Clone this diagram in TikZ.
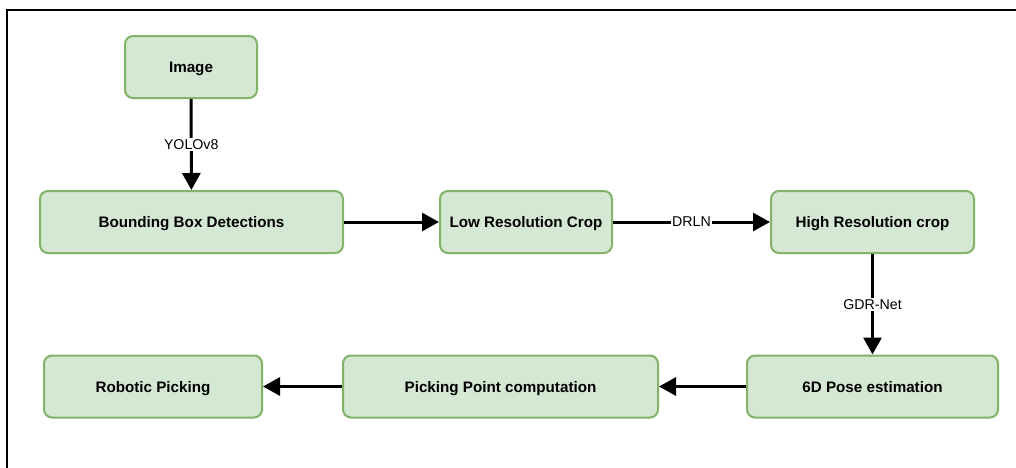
\documentclass[tikz,border=0pt]{standalone}
\usepackage{fontspec}
\setmainfont{Liberation Sans}
\usetikzlibrary{arrows.meta}
\definecolor{boxfill}{HTML}{D5E8D4}
\definecolor{boxdraw}{HTML}{82B366}
\tikzset{
  box/.style={draw=boxdraw, fill=boxfill, line width=2pt, rounded corners=8pt,
    inner sep=0pt, text height=13pt, text depth=2pt,
    font=\fontsize{15.2}{18}\selectfont\bfseries},
  flow/.style={line width=3pt, -{Triangle[length=17pt,width=18pt]}},
  lbl/.style={fill=white, inner sep=1.5pt, font=\fontsize{14.2}{16}\selectfont}
}
\begin{document}
\begin{tikzpicture}[x=1pt,y=-1pt]
\useasboundingbox (0,0) rectangle (1016,467);
\fill[white] (0,0) rectangle (1016,467);
\begin{scope}
\clip (0,0) rectangle (1016,467);
\draw[line width=1.6pt] (7,10) rectangle (1040,490);
\end{scope}
\node[box, minimum width=132pt, minimum height=62pt] (img) at (191,67) {Image};
\node[box, minimum width=303pt, minimum height=62pt] (bbd) at (191.5,222) {Bounding Box Detections};
\node[box, minimum width=172pt, minimum height=62pt] (lrc) at (526,222) {Low Resolution Crop};
\node[box, minimum width=203pt, minimum height=62pt] (hrc) at (872.5,222) {High Resolution crop};
\node[box, minimum width=251pt, minimum height=62pt] (pose) at (872.5,386.5) {6D Pose estimation};
\node[box, minimum width=315pt, minimum height=62pt] (ppc) at (500.5,386.5) {Picking Point computation};
\node[box, minimum width=218pt, minimum height=62pt] (rp) at (153,386.5) {Robotic Picking};
\draw[flow] (img) -- node[lbl, pos=0.5] {YOLOv8} (bbd);
\draw[flow] (bbd) -- (lrc);
\draw[flow] (lrc) -- node[lbl, pos=0.5] {DRLN} (hrc);
\draw[flow] (hrc.south) -- node[lbl, pos=0.5] {GDR-Net} (pose.north -| hrc.south);
\draw[flow] (pose) -- (ppc);
\draw[flow] (ppc) -- (rp);
\end{tikzpicture}
\end{document}
